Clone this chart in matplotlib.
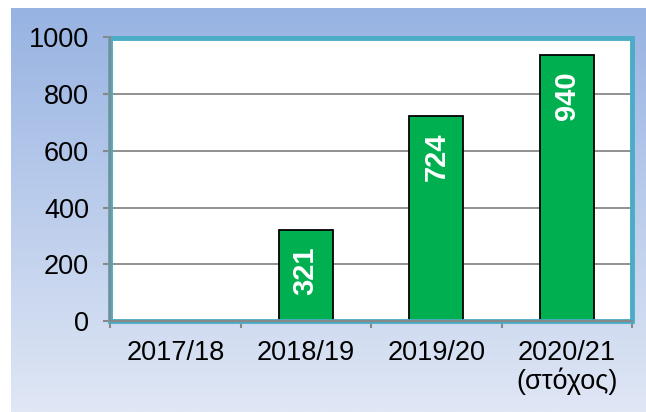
import numpy as np
import matplotlib
matplotlib.use("Agg")
import matplotlib.pyplot as plt
from matplotlib.patches import Rectangle
from matplotlib.colors import LinearSegmentedColormap

categories = ["2017/18", "2018/19", "2019/20", "2020/21\n(στόχος)"]
values = [0, 321, 724, 940]
yticks = [0, 200, 400, 600, 800, 1000]

plt.rcParams['font.family'] = ['Liberation Sans', 'DejaVu Sans']

W, H = 646, 412
fig = plt.figure(figsize=(W/100, H/100), dpi=100)

# gradient background
bg = fig.add_axes([11/W, 0, 1 - 11/W, 1 - 8/H], zorder=-5)
cmap = LinearSegmentedColormap.from_list("bg", ["#97b3e2", "#e0e7f5"])
grad = np.linspace(0, 1, 256).reshape(-1, 1)
bg.imshow(grad, aspect='auto', cmap=cmap, extent=[0, 1, 0, 1])
bg.axis('off')

ax = fig.add_axes([110/W, 1 - 321/H, (632 - 110)/W, (321 - 37.5)/H])
ax.set_facecolor('white')
x = np.arange(len(categories))
bars = ax.bar(x, values, width=0.41, color='#00b050', edgecolor='black', linewidth=1.3, zorder=3)
for xi, v in zip(x, values):
    if v > 0:
        ax.annotate(str(v), (xi, v), xytext=(0, -12), textcoords='offset points',
                    ha='center', va='top', rotation=90, color='white',
                    fontsize=21, fontweight='bold', zorder=5)

ax.set_xlim(-0.5, len(categories) - 0.5)
ax.set_ylim(0, 1000)
ax.set_yticks(yticks)
ax.set_yticklabels([str(t) for t in yticks], fontsize=19.5)
ax.set_xticks(x)
ax.set_xticklabels(categories, fontsize=19.5, linespacing=1.05)
ax.set_xticks(np.arange(-0.5, len(categories)), minor=True)
ax.tick_params(axis='x', which='major', length=0, pad=14)
ax.tick_params(axis='x', which='minor', length=5, width=1.5, color='#888888')
ax.tick_params(axis='y', length=5, width=1.5, color='#888888', pad=10)
ax.grid(axis='y', color='#888888', linewidth=1.3, zorder=1)
ax.set_axisbelow(True)

for s in ['top', 'right']:
    ax.spines[s].set_visible(False)
for s in ['left', 'bottom']:
    ax.spines[s].set_color('#888888')
    ax.spines[s].set_linewidth(1.5)
    ax.spines[s].set_zorder(6)

frame = Rectangle((0, 0), 1, 1, transform=ax.transAxes, fill=False,
                  edgecolor='#4bacc6', linewidth=3.5, zorder=4, clip_on=False)
ax.add_patch(frame)

fig.savefig("out.png", dpi=100)
